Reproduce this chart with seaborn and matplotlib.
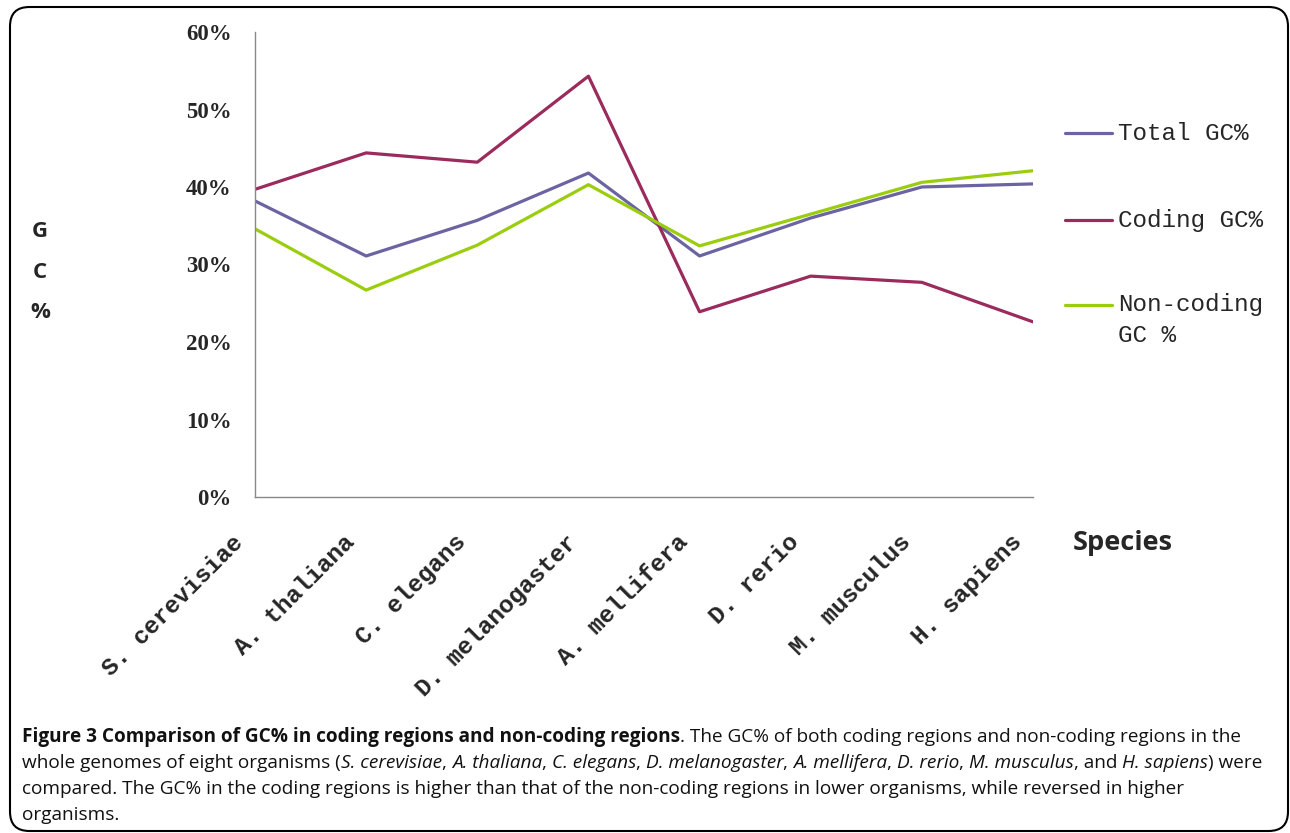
import numpy as np
import pandas as pd
import seaborn as sns
import matplotlib.pyplot as plt
from matplotlib.patches import FancyBboxPatch
from matplotlib.lines import Line2D
import matplotlib.transforms as mtransforms

species = ['S. cerevisiae', 'A. thaliana', 'C. elegans', 'D. melanogaster',
           'A. mellifera', 'D. rerio', 'M. musculus', 'H. sapiens']
total_gc = [38.2, 31.1, 35.7, 41.8, 31.1, 36.0, 40.0, 40.4]
coding_gc = [39.7, 44.4, 43.2, 54.3, 23.9, 28.5, 27.7, 22.6]
noncoding_gc = [34.6, 26.7, 32.5, 40.3, 32.4, 36.5, 40.6, 42.1]
series_names = ['Total GC%', 'Coding GC%', 'Non-coding GC %']
colors = {'Total GC%': '#6b64a2', 'Coding GC%': '#9a2b5c', 'Non-coding GC %': '#9acd0e'}
yticks = [0, 10, 20, 30, 40, 50, 60]

df = pd.DataFrame({'species': species * 3,
                   'gc': total_gc + coding_gc + noncoding_gc,
                   'series': sum([[s] * len(species) for s in series_names], [])})
df['pos'] = df['species'].map({s: i for i, s in enumerate(species)})

sns.set_style('white')
plt.rcParams['font.family'] = ['DejaVu Sans']

W, H = 1290, 833
fig = plt.figure(figsize=(W / 100, H / 100), dpi=100)
ax = fig.add_axes([255 / W, 1 - 497 / H, (1033 - 255) / W, (497 - 32) / H])

sns.lineplot(data=df, x='pos', y='gc', hue='series', palette=colors,
             hue_order=series_names, linewidth=2.3, legend=False, ax=ax, sort=False)

ax.set_xlim(0, len(species) - 1)
ax.set_ylim(0, 60)

for side in ['top', 'right']:
    ax.spines[side].set_visible(False)
for side in ['left', 'bottom']:
    ax.spines[side].set_color('#888888')
    ax.spines[side].set_linewidth(1.0)
ax.tick_params(axis='y', direction='in', length=3, width=1, color='#888888', pad=17)
ax.tick_params(axis='x', direction='out', length=6, width=1, color='#888888', pad=24)

ax.set_yticks(yticks)
ax.set_yticklabels([f'{v}%' for v in yticks], family='Liberation Serif',
                   fontweight='bold', fontsize=16.5)
ax.set_xticks(range(len(species)))
ax.set_xticklabels(species, rotation=45, ha='right', va='center',
                   rotation_mode='anchor', family='Liberation Mono',
                   fontweight='bold', fontsize=17.5)
# shift the slanted labels a little to the left of their ticks
off = mtransforms.ScaledTranslation(-15 / 100, 0, fig.dpi_scale_trans)
for lab in ax.get_xticklabels():
    lab.set_transform(lab.get_transform() + off)

ax.set_xlabel('')
ax.set_ylabel('G\nC\n%', rotation=0, family='Open Sans', fontweight='bold',
              fontsize=16, linespacing=2.2, va='center', ha='center')
ax.yaxis.set_label_coords((40 - 255) / (1033 - 255), (497 - 272) / (497 - 32))

fig.text(1123 / W, 1 - 543 / H, 'Species', family='Open Sans', fontweight='bold',
         fontsize=19.5, ha='center', va='center')

# legend drawn by hand to keep the wrapped label next to its line
leg_rows = [('Total GC%', 133), ('Coding GC%', 220), ('Non-coding GC %', 305)]
for name, y in leg_rows:
    fig.add_artist(Line2D([1065 / W, 1112 / W], [1 - y / H, 1 - y / H],
                          color=colors[name], linewidth=2.3))
leg_font = dict(family='Liberation Mono', fontsize=17.5, ha='left', va='center')
fig.text(1118 / W, 1 - 133 / H, 'Total GC%', **leg_font)
fig.text(1118 / W, 1 - 220 / H, 'Coding GC%', **leg_font)
fig.text(1118 / W, 1 - 305 / H, 'Non-coding', **leg_font)
fig.text(1118 / W, 1 - 335 / H, 'GC %', **leg_font)

# border
fig.add_artist(FancyBboxPatch((10 / W, 1 - 831 / H), (1288 - 10) / W, (831 - 7) / H,
                              boxstyle='round,pad=0,rounding_size=0.015',
                              transform=fig.transFigure, fill=False,
                              edgecolor='black', linewidth=1.5,
                              mutation_aspect=W / H))

# caption with mixed styles
renderer = fig.canvas.get_renderer()
cap_size = 13.7


def run_width(text, style, weight):
    t1 = fig.text(0, 0, '|' + text + '|', family='Open Sans', fontsize=cap_size,
                  style=style, fontweight=weight)
    t2 = fig.text(0, 0, '||', family='Open Sans', fontsize=cap_size,
                  style=style, fontweight=weight)
    w = t1.get_window_extent(renderer).width - t2.get_window_extent(renderer).width
    t1.remove()
    t2.remove()
    return w


def draw_line(runs, x0, y):
    x = x0
    for text, style, weight in runs:
        fig.text(x / W, 1 - y / H, text, family='Open Sans', fontsize=cap_size,
                 style=style, fontweight=weight, ha='left', va='baseline',
                 color='#111111')
        x += run_width(text, style, weight)


N, I, B = 'normal', 'italic', 'bold'
cap_lines = [
    [('Figure 3 Comparison of GC% in coding regions and non-coding regions', N, B),
     ('. The GC% of both coding regions and non-coding regions in the', N, N)],
    [('whole genomes of eight organisms (', N, N), ('S. cerevisiae', I, N), (', ', N, N),
     ('A. thaliana', I, N), (', ', N, N), ('C. elegans', I, N), (', ', N, N),
     ('D. melanogaster', I, N), (', ', N, N), ('A. mellifera', I, N), (', ', N, N),
     ('D. rerio', I, N), (', ', N, N), ('M. musculus', I, N), (', and ', N, N),
     ('H. sapiens', I, N), (') were', N, N)],
    [('compared. The GC% in the coding regions is higher than that of the non-coding '
      'regions in lower organisms, while reversed in higher', N, N)],
    [('organisms.', N, N)],
]
for k, runs in enumerate(cap_lines):
    draw_line(runs, 22, 742 + 26 * k)

fig.savefig('out.png', dpi=100, facecolor='white')
